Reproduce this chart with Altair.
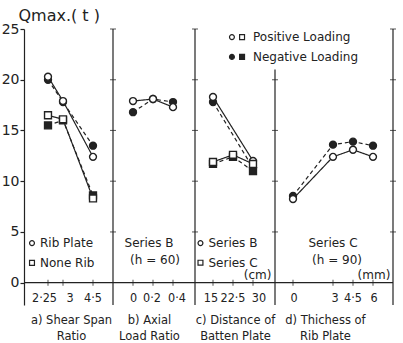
import altair as alt
import pandas as pd

INK = "#222222"
FONT = "DejaVu Sans"
NUMFONT = "'Liberation Sans Narrow', 'DejaVu Sans Condensed', 'Liberation Sans', sans-serif"

# ---------------- data ----------------
y_ticks = [0, 5, 10, 15, 20, 25]
y_domain = [-2.2, 25]

# a) shear span ratio
a_x = [2.25, 3, 4.5]
a_rib_pos = [20.3, 17.9, 12.4]
a_rib_neg = [20.0, 17.8, 13.5]
a_none_pos = [16.5, 16.1, 8.3]
a_none_neg = [15.5, 16.0, 8.6]
a_ticks = [2.25, 3, 4.5]
a_labels = ["2·25", "3", "4·5"]

# b) axial load ratio
b_x = [0, 0.2, 0.4]
b_pos = [17.9, 18.1, 17.3]
b_neg = [16.8, 18.1, 17.8]
b_ticks = [0, 0.2, 0.4]
b_labels = ["0", "0·2", "0·4"]

# c) distance of batten plate
c_b_x = [15, 30]
c_b_pos = [18.3, 12.0]
c_b_neg = [17.8, 11.3]
c_c_x = [15, 22.5, 30]
c_c_pos = [11.9, 12.6, 11.7]
c_c_neg = [11.7, 12.4, 11.0]
c_ticks = [15, 22.5, 30]
c_labels = ["15", "22·5", "30"]

# d) thickness of rib plate
d_x = [0, 3, 4.5, 6]
d_pos = [8.25, 12.4, 13.1, 12.4]
d_neg = [8.55, 13.6, 13.9, 13.5]
d_ticks = [0, 3, 4.5, 6]
d_labels = ["0", "3", "4·5", "6"]

captions = [
    ["a) Shear Span", "Ratio"],
    ["b) Axial", "Load Ratio"],
    ["c) Distance of", "Batten Plate"],
    ["d) Thichess of", "Rib Plate"],
]

# label nudges (layout only, pixels)
label_dx = {
    "a": [-3.5, 7, 0],
    "b": [0.5, -1, 4],
    "c": [-2, 0, 6],
    "d": [1, 2, 0, 1],
}


def series_df(items):
    rows = []
    for name, shape, loading, xs, ys in items:
        for xv, yv in zip(xs, ys):
            rows.append({"x": xv, "y": yv, "series": name, "shape": shape,
                         "loading": loading,
                         "fill": "white" if loading == "pos" else INK})
    return pd.DataFrame(rows)


def panel(items, xdom, width, xticks, xlabels, dxs, caption, cap_x,
          texts, markers, div_top, div_ticks, first=False):
    df = series_df(items)
    # negative drawn first so open markers sit on top
    df = pd.concat([df[df["loading"] == "neg"], df[df["loading"] == "pos"]])
    xs = alt.Scale(domain=xdom, nice=False, zero=False)
    ys = alt.Scale(domain=y_domain, nice=False, zero=False)
    xaxis = alt.Axis(labels=False, ticks=False, domain=False, grid=False,
                     title=caption, titleFont=FONT, titleFontSize=11.5,
                     titleFontWeight="normal", titleColor=INK,
                     titleX=cap_x, titleY=9, titleAlign="center",
                     titleBaseline="top", titleLineHeight=16)
    if first:
        yaxis = alt.Axis(values=y_ticks, tickSize=4, labelPadding=1, grid=False,
                         domainColor=INK, tickColor=INK, labelColor=INK,
                         labelFont=FONT, labelFontSize=14, domainWidth=1.2,
                         tickWidth=1.2, title="Qmax.( t )", titleAngle=0,
                         titleAlign="left", titleBaseline="middle", titleX=-6,
                         titleY=-14, titleFont=FONT, titleFontSize=16,
                         titleFontWeight="normal", titleColor=INK)
    else:
        yaxis = None

    def X(f="x"):
        return alt.X(f + ":Q", scale=xs, axis=xaxis)

    def Y(f="y"):
        return alt.Y(f + ":Q", scale=ys, axis=yaxis)

    layers = []
    # baseline at 0
    layers.append(alt.Chart(pd.DataFrame({"y": [0]})).mark_rule(
        color=INK, strokeWidth=1.2).encode(y=Y()))
    # right divider
    layers.append(alt.Chart(pd.DataFrame({"x": [xdom[1]], "y": [y_domain[0]], "y2": [div_top]}))
                  .mark_rule(color=INK, strokeWidth=1.2)
                  .encode(x=X(), y=Y(), y2="y2:Q"))
    layers.append(alt.Chart(pd.DataFrame({"x": [xdom[1]] * len(div_ticks), "y": div_ticks}))
                  .mark_tick(orient="horizontal", size=6, thickness=1.1, color=INK)
                  .encode(x=X(), y=Y()))
    # x tick crosses
    layers.append(alt.Chart(pd.DataFrame({"x": xticks, "y": [0] * len(xticks)}))
                  .mark_tick(orient="vertical", size=6, thickness=1.1, color=INK)
                  .encode(x=X(), y=Y()))
    # x tick labels
    for xv, lab, dx in zip(xticks, xlabels, dxs):
        layers.append(alt.Chart(pd.DataFrame({"x": [xv], "y": [-1.5], "t": [lab]}))
                      .mark_text(font=NUMFONT, fontSize=12.5, color=INK,
                                 baseline="middle", dx=dx)
                      .encode(x=X(), y=Y(), text="t:N"))
    # lines
    for loading, dash in [("neg", [4, 3]), ("pos", [1, 0])]:
        sub = df[df["loading"] == loading]
        layers.append(alt.Chart(sub).mark_line(color=INK, strokeWidth=1.2, strokeDash=dash)
                      .encode(x=X(), y=Y(), detail="series:N"))
    # points
    layers.append(alt.Chart(df).mark_point(filled=True, stroke=INK, strokeWidth=1.4,
                                           opacity=1, size=48)
                  .encode(x=X(), y=Y(),
                          shape=alt.Shape("shape:N", scale=None),
                          fill=alt.Fill("fill:N", scale=None)))
    # annotation texts
    if texts:
        tdf = pd.DataFrame(texts, columns=["x", "y", "t", "al"])
        for al in ["left", "center", "right"]:
            sub = tdf[tdf["al"] == al]
            if len(sub):
                layers.append(alt.Chart(sub).mark_text(font=FONT, fontSize=12, color=INK,
                                                       align=al, baseline="middle")
                              .encode(x=X(), y=Y(), text="t:N"))
    if markers:
        mdf = pd.DataFrame(markers, columns=["x", "y", "shape", "fill"])
        layers.append(alt.Chart(mdf).mark_point(filled=True, stroke=INK, strokeWidth=1.2,
                                                opacity=1, size=24)
                      .encode(x=X(), y=Y(),
                              shape=alt.Shape("shape:N", scale=None),
                              fill=alt.Fill("fill:N", scale=None)))
    return alt.layer(*layers).properties(width=width, height=276)


pa = panel(
    [("rib", "circle", "pos", a_x, a_rib_pos), ("rib", "circle", "neg", a_x, a_rib_neg),
     ("none", "square", "pos", a_x, a_none_pos), ("none", "square", "neg", a_x, a_none_neg)],
    [1.05, 5.5], 89, a_ticks, a_labels, label_dx["a"], captions[0], 47,
    [(1.85, 3.9, "Rib Plate", "left"), (1.85, 1.95, "None Rib", "left")],
    [(1.45, 3.9, "circle", "white"), (1.45, 1.95, "square", "white")],
    25, [5, 10, 15, 20, 25], first=True)

pb = panel(
    [("b", "circle", "pos", b_x, b_pos), ("b", "circle", "neg", b_x, b_neg)],
    [-0.2, 0.62], 82, b_ticks, b_labels, label_dx["b"], captions[1], 36,
    [(0.16, 3.9, "Series B", "center"), (0.22, 2.2, "(h = 60)", "center")],
    [], 25, [5, 10, 15, 20, 25])

pc = panel(
    [("B", "circle", "pos", c_b_x, c_b_pos), ("B", "circle", "neg", c_b_x, c_b_neg),
     ("C", "square", "pos", c_c_x, c_c_pos), ("C", "square", "neg", c_c_x, c_c_neg)],
    [8.25, 38.25], 80, c_ticks, c_labels, label_dx["c"], captions[2], 40,
    [(13.3, 3.9, "Series B", "left"), (13.3, 1.97, "Series C", "left"),
     (36.9, 0.75, "(cm)", "right"),
     (30.0, 24.2, "Positive  Loading", "left"), (30.0, 22.25, "Negative Loading", "left")],
    [(10.3, 3.9, "circle", "white"), (10.3, 1.97, "square", "white"),
     (22.1, 24.2, "circle", "white"), (25.9, 24.2, "square", "white"),
     (22.1, 22.25, "circle", INK), (25.9, 22.25, "square", INK)],
    21, [5, 10, 15, 20])

pd_ = panel(
    [("d", "circle", "pos", d_x, d_pos), ("d", "circle", "neg", d_x, d_neg)],
    [-1.35, 7.5], 118, d_ticks, d_labels, label_dx["d"], captions[3], 50,
    [(3.0, 3.9, "Series C", "center"), (3.3, 2.2, "(h = 90)", "center"),
     (7.3, 0.75, "(mm)", "right")],
    [], 25, [5, 10, 15, 20, 25])

chart = alt.hconcat(pa, pb, pc, pd_, spacing=0, bounds="flush").configure_view(
    stroke=None).properties(
    padding={"left": 1, "top": 7, "right": 5, "bottom": 0},
    background="white")

chart.save("out.html", embed_options={"renderer": "svg", "actions": False})
